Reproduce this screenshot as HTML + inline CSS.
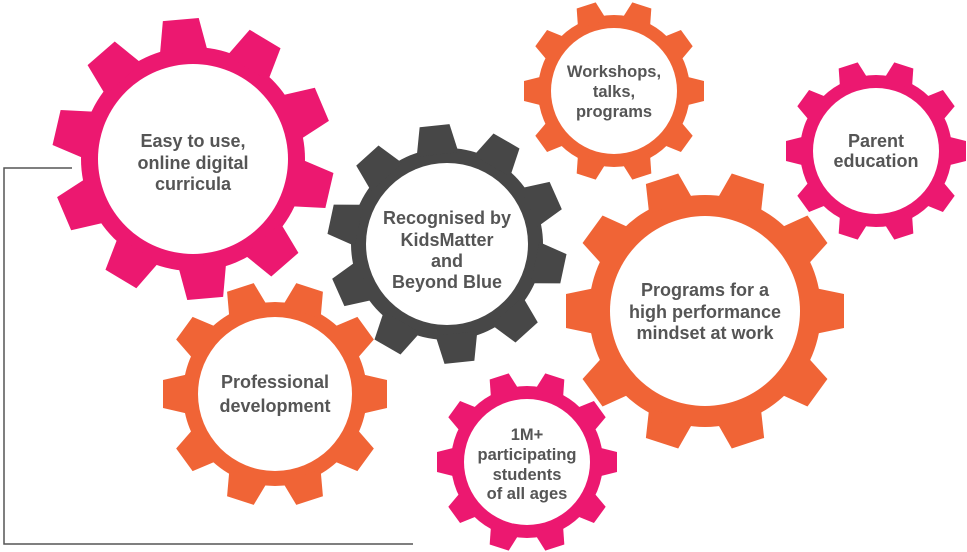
<!DOCTYPE html>
<html><head><meta charset="utf-8"><style>
html,body{margin:0;padding:0;background:#fff;}
svg{display:block;}
text{font-family:"Liberation Sans",sans-serif;font-weight:bold;font-size:18px;fill:#555;text-anchor:middle;}
text.s{font-size:16.5px;}
</style></head><body>
<svg width="967" height="552" viewBox="0 0 967 552" xmlns="http://www.w3.org/2000/svg">
<defs>
<polygon id="t1" points="-24,-106 -18,-140 18,-140 24,-106" fill="#EC1870"/>
<polygon id="t2" points="-21,-90 -15,-119 15,-119 21,-90" fill="#474747"/>
<polygon id="t3" points="-20,-86 -14,-112 14,-112 20,-86" fill="#F06436"/>
<polygon id="t4" points="-15,-70 -10,-90 10,-90 15,-70" fill="#F06436"/>
<polygon id="t5" points="-15,-70 -10,-90 10,-90 15,-70" fill="#EC1870"/>
<polygon id="t6" points="-23,-110 -17,-139 17,-139 23,-110" fill="#F06436"/>
</defs>
<polyline points="72,168 4,168 4,544 413,544" fill="none" stroke="#555" stroke-width="1.5"/>

<g transform="translate(193,159)">
<circle r="112" fill="#EC1870"/>
<use href="#t1" transform="rotate(-5)"/><use href="#t1" transform="rotate(31)"/><use href="#t1" transform="rotate(67)"/><use href="#t1" transform="rotate(103)"/><use href="#t1" transform="rotate(139)"/><use href="#t1" transform="rotate(175)"/><use href="#t1" transform="rotate(211)"/><use href="#t1" transform="rotate(247)"/><use href="#t1" transform="rotate(283)"/><use href="#t1" transform="rotate(319)"/>
<circle r="95" fill="#fff"/>
</g>
<text x="193" y="147">Easy to use,</text>
<text x="193" y="169">online digital</text>
<text x="193" y="190">curricula</text>

<g transform="translate(447,244)">
<circle r="96" fill="#474747"/>
<use href="#t2" transform="rotate(-6)"/><use href="#t2" transform="rotate(30)"/><use href="#t2" transform="rotate(66)"/><use href="#t2" transform="rotate(102)"/><use href="#t2" transform="rotate(138)"/><use href="#t2" transform="rotate(174)"/><use href="#t2" transform="rotate(210)"/><use href="#t2" transform="rotate(246)"/><use href="#t2" transform="rotate(282)"/><use href="#t2" transform="rotate(318)"/>
<circle r="81" fill="#fff"/>
</g>
<text x="447" y="224">Recognised by</text>
<text x="447" y="246">KidsMatter</text>
<text x="447" y="267">and</text>
<text x="447" y="288">Beyond Blue</text>

<g transform="translate(275,394)">
<circle r="92" fill="#F06436"/>
<use href="#t3" transform="rotate(18)"/><use href="#t3" transform="rotate(54)"/><use href="#t3" transform="rotate(90)"/><use href="#t3" transform="rotate(126)"/><use href="#t3" transform="rotate(162)"/><use href="#t3" transform="rotate(198)"/><use href="#t3" transform="rotate(234)"/><use href="#t3" transform="rotate(270)"/><use href="#t3" transform="rotate(306)"/><use href="#t3" transform="rotate(342)"/>
<circle r="77" fill="#fff"/>
</g>
<text x="275" y="388">Professional</text>
<text x="275" y="412">development</text>

<g transform="translate(614,91)">
<circle r="76" fill="#F06436"/>
<use href="#t4" transform="rotate(18)"/><use href="#t4" transform="rotate(54)"/><use href="#t4" transform="rotate(90)"/><use href="#t4" transform="rotate(126)"/><use href="#t4" transform="rotate(162)"/><use href="#t4" transform="rotate(198)"/><use href="#t4" transform="rotate(234)"/><use href="#t4" transform="rotate(270)"/><use href="#t4" transform="rotate(306)"/><use href="#t4" transform="rotate(342)"/>
<circle r="63" fill="#fff"/>
</g>
<text class="s" x="614" y="77">Workshops,</text>
<text class="s" x="614" y="97">talks,</text>
<text class="s" x="614" y="117">programs</text>

<g transform="translate(876,151)">
<circle r="76" fill="#EC1870"/>
<use href="#t5" transform="rotate(18)"/><use href="#t5" transform="rotate(54)"/><use href="#t5" transform="rotate(90)"/><use href="#t5" transform="rotate(126)"/><use href="#t5" transform="rotate(162)"/><use href="#t5" transform="rotate(198)"/><use href="#t5" transform="rotate(234)"/><use href="#t5" transform="rotate(270)"/><use href="#t5" transform="rotate(306)"/><use href="#t5" transform="rotate(342)"/>
<circle r="63" fill="#fff"/>
</g>
<text x="876" y="147">Parent</text>
<text x="876" y="167">education</text>

<g transform="translate(705,311)">
<circle r="116" fill="#F06436"/>
<use href="#t6" transform="rotate(18)"/><use href="#t6" transform="rotate(54)"/><use href="#t6" transform="rotate(90)"/><use href="#t6" transform="rotate(126)"/><use href="#t6" transform="rotate(162)"/><use href="#t6" transform="rotate(198)"/><use href="#t6" transform="rotate(234)"/><use href="#t6" transform="rotate(270)"/><use href="#t6" transform="rotate(306)"/><use href="#t6" transform="rotate(342)"/>
<circle r="95" fill="#fff"/>
</g>
<text x="705" y="296">Programs for a</text>
<text x="705" y="318">high performance</text>
<text x="705" y="339">mindset at work</text>

<g transform="translate(527,462)">
<circle r="76" fill="#EC1870"/>
<use href="#t5" transform="rotate(18)"/><use href="#t5" transform="rotate(54)"/><use href="#t5" transform="rotate(90)"/><use href="#t5" transform="rotate(126)"/><use href="#t5" transform="rotate(162)"/><use href="#t5" transform="rotate(198)"/><use href="#t5" transform="rotate(234)"/><use href="#t5" transform="rotate(270)"/><use href="#t5" transform="rotate(306)"/><use href="#t5" transform="rotate(342)"/>
<circle r="63" fill="#fff"/>
</g>
<text class="s" x="527" y="440">1M+</text>
<text class="s" x="527" y="460">participating</text>
<text class="s" x="527" y="480">students</text>
<text class="s" x="527" y="499">of all ages</text>
</svg>
</body></html>
